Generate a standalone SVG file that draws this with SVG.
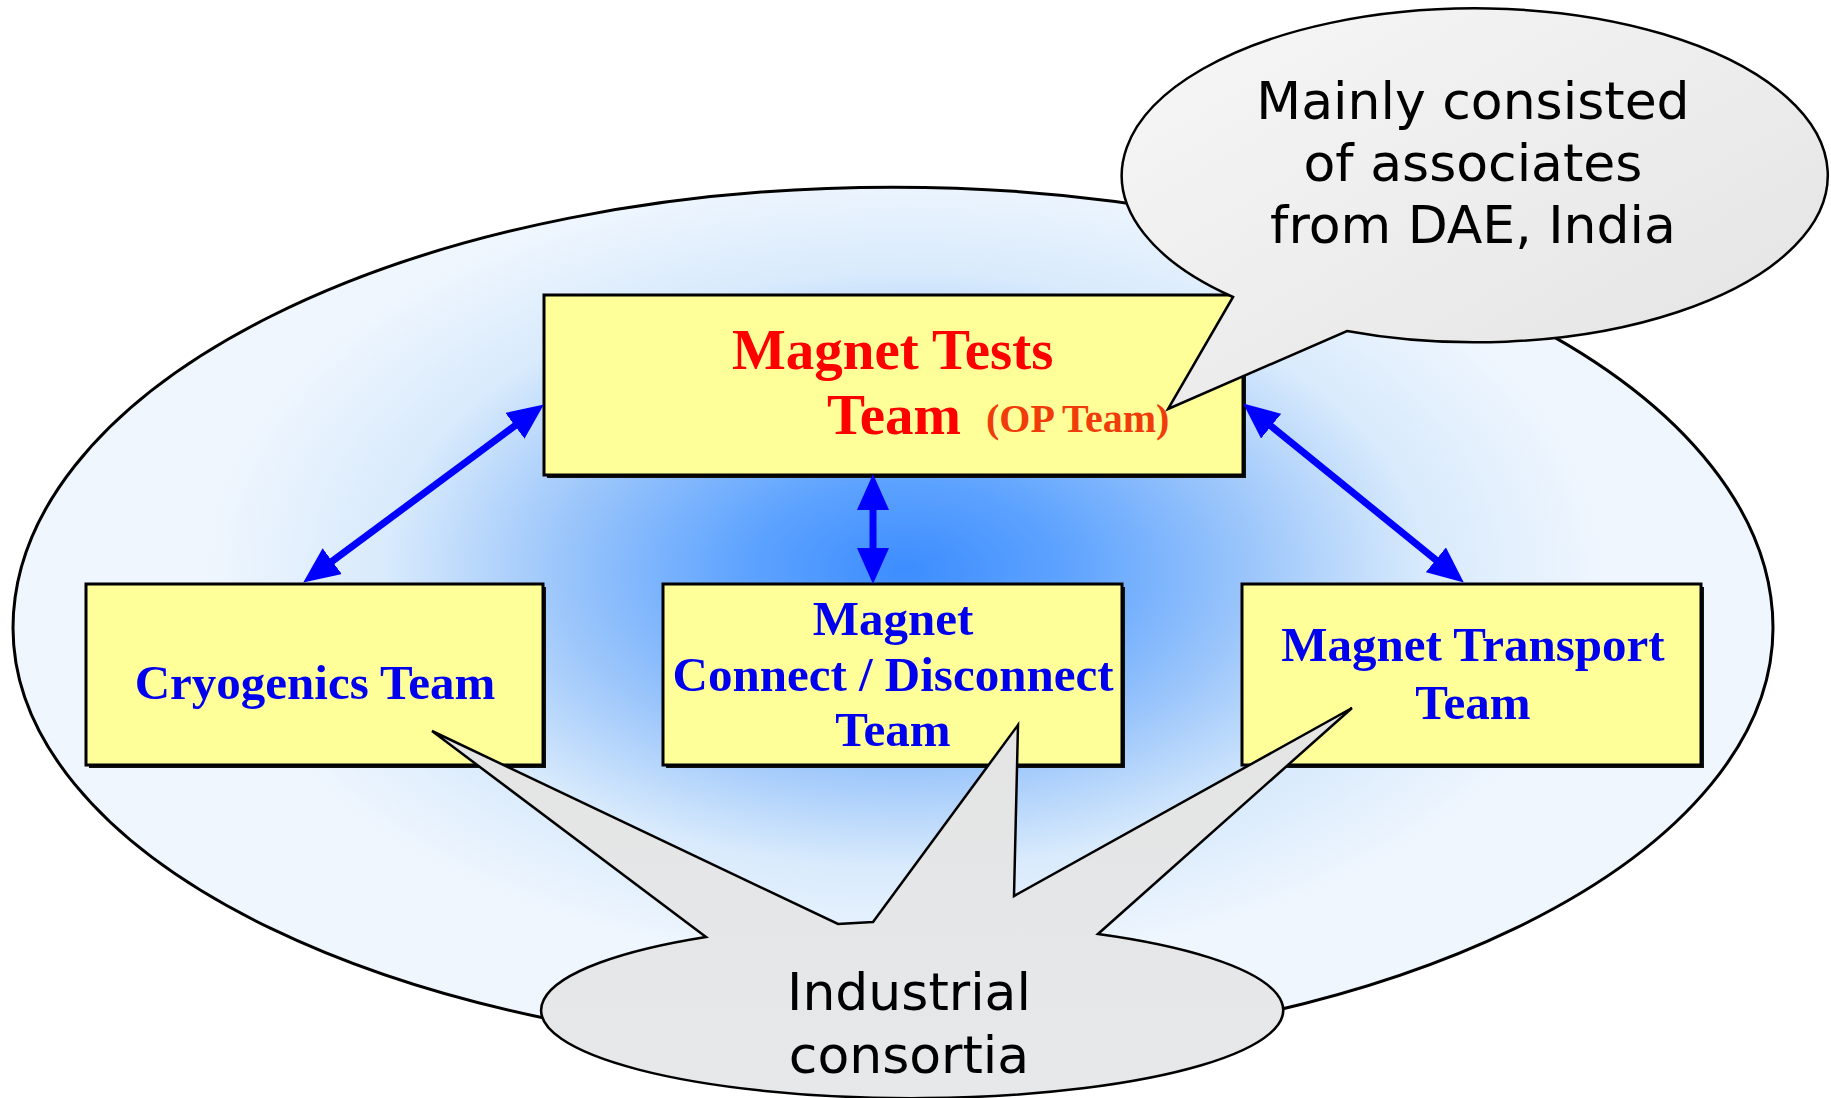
<svg xmlns="http://www.w3.org/2000/svg" width="1831" height="1098" viewBox="0 0 1831 1098">
  <defs>
    <radialGradient id="bgGrad" gradientUnits="userSpaceOnUse" cx="0" cy="0" r="1" gradientTransform="translate(905 570) scale(700 400)">
      <stop offset="0" stop-color="#3d8dff"/>
      <stop offset="0.22" stop-color="#5ca2ff"/>
      <stop offset="0.48" stop-color="#98c4fb"/>
      <stop offset="0.74" stop-color="#d8eafc"/>
      <stop offset="1" stop-color="#eff6fe"/>
    </radialGradient>
    <linearGradient id="calloutGrad" x1="0" y1="0" x2="1" y2="1">
      <stop offset="0" stop-color="#f7f7f7"/>
      <stop offset="1" stop-color="#e2e2e2"/>
    </linearGradient>
    <linearGradient id="calloutGrad2" x1="0" y1="0" x2="0" y2="1">
      <stop offset="0" stop-color="#e4e4e4"/>
      <stop offset="1" stop-color="#e6e8ea"/>
    </linearGradient>
    <marker id="head" markerUnits="userSpaceOnUse" markerWidth="36" markerHeight="32" refX="20" refY="16" orient="auto-start-reverse" viewBox="0 0 36 32">
      <path d="M0,0 L36,16 L0,32 z" fill="#0000ff"/>
    </marker>
    <style>
      .box { fill: #ffff99; stroke: #000; stroke-width: 3; }
      .shadow { fill: #111; }
      .red { font-family: "Liberation Serif", "Times New Roman", serif; font-weight: bold; fill: #ff0000; font-size: 57px; }
      .op { font-family: "Liberation Serif", "Times New Roman", serif; font-weight: bold; fill: #f03c0a; font-size: 40px; }
      .blue { font-family: "Liberation Serif", "Times New Roman", serif; font-weight: bold; fill: #0000ee; font-size: 49px; text-anchor: middle; }
      .note { font-family: "DejaVu Sans", Verdana, sans-serif; fill: #000; font-size: 52px; text-anchor: middle; }
      .conn { stroke: #0000ff; stroke-width: 7; fill: none; marker-start: url(#head); marker-end: url(#head); }
      .bubble { stroke: #000; stroke-width: 2.5; stroke-linejoin: miter; }
    </style>
  </defs>

  <rect x="0" y="0" width="1831" height="1098" fill="#ffffff"/>

  <g id="scope">
    <path d="M13,628 A880,441 0 0 1 1773,628 A880,425 0 0 1 13,628 Z" fill="url(#bgGrad)" stroke="#000" stroke-width="3"/>
  </g>

  <g id="node-magnet-tests">
    <rect class="shadow" x="547" y="298" width="699" height="180"/>
    <rect class="box" x="544" y="295" width="699" height="180"/>
    <text class="red" x="732" y="369">Magnet Tests</text>
    <text class="red" x="827" y="434">Team</text>
    <text class="op" x="986" y="432">(OP Team)</text>
  </g>

  <g id="node-cryogenics">
    <rect class="shadow" x="89" y="587" width="457" height="181"/>
    <rect class="box" x="86" y="584" width="457" height="181"/>
    <text class="blue" x="315" y="699" font-size="50.5">Cryogenics Team</text>
  </g>

  <g id="node-connect">
    <rect class="shadow" x="666" y="587" width="459" height="181"/>
    <rect class="box" x="663" y="584" width="459" height="181"/>
    <text class="blue" x="893" y="635">Magnet</text>
    <text class="blue" x="893" y="691">Connect / Disconnect</text>
    <text class="blue" x="893" y="746">Team</text>
  </g>

  <g id="node-transport">
    <rect class="shadow" x="1245" y="587" width="459" height="181"/>
    <rect class="box" x="1242" y="584" width="459" height="181"/>
    <text class="blue" x="1473" y="661">Magnet Transport</text>
    <text class="blue" x="1473" y="719">Team</text>
  </g>

  <g id="connectors">
    <line class="conn" x1="316.1" y1="573.1" x2="531" y2="413.9"/>
    <line class="conn" x1="873" y1="490" x2="873" y2="568"/>
    <line class="conn" x1="1255.6" y1="413.5" x2="1451.4" y2="572.5"/>
  </g>

  <g id="note-industrial">
    <path class="bubble" fill="url(#calloutGrad2)" d="M706,937 L432,731 L838,924 A371,88 0 0 1 873,922 L1018,725 L1014,896 L1352,708 L1098,934 A371,88 0 1 1 706,937 Z"/>
    <text class="note" x="909" y="1010">Industrial</text>
    <text class="note" x="909" y="1073">consortia</text>
  </g>

  <g id="note-dae">
    <path class="bubble" fill="url(#calloutGrad)" d="M1233,297 L1168,409 L1347,331 A353,167 0 1 0 1233,297 Z"/>
    <text class="note" x="1473" y="119">Mainly consisted</text>
    <text class="note" x="1473" y="181">of associates</text>
    <text class="note" x="1473" y="243">from DAE, India</text>
  </g>
</svg>
